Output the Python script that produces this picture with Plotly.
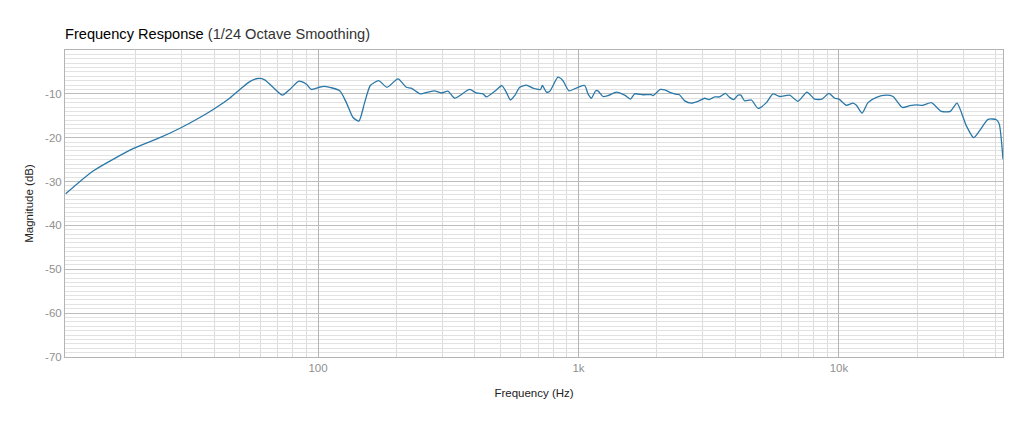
import plotly.graph_objects as go

# frequency response (Hz, dB)
freq = [10.75, 13.7, 19.5, 24.7, 29.4, 35.2, 40.7, 45.8, 50.8, 54.7,
        58.9, 62.4, 67.2, 73.0, 77.9, 84.5, 90.3, 94.3, 100.9, 106.1,
        121.2, 128.5, 136.3, 143.6, 151, 158.8, 171, 184, 202.9, 218.4,
        228, 247, 264, 280, 297.7, 315.5, 334.8, 382, 405.5, 430,
        443, 484, 508, 528, 548, 569, 595, 631, 669, 714,
        727, 753, 776, 834, 872, 919, 995, 1056, 1088, 1121,
        1164, 1188, 1242, 1298, 1398, 1504, 1582, 1643, 1768, 1905,
        1932, 2063, 2143, 2273, 2376, 2440, 2557, 2713, 2875, 3051,
        3170, 3333, 3483, 3664, 3802, 3944, 4096, 4200, 4345, 4610,
        4887, 5264, 5580, 5920, 6467, 6960, 7535, 8066, 8600, 9154,
        9628, 10000, 10676, 11316, 11665, 12260, 12924, 13918, 15205, 16121,
        17513, 18680, 19815, 21011, 22628, 24720, 26765, 28378, 30832, 32890,
        34670, 37325, 40215, 41235, 42616]
mag = [-32.8, -27.6, -22.5, -20.0, -17.9, -15.4, -13.1, -11.0, -8.7, -7.2,
       -6.5, -6.8, -8.5, -10.3, -9.0, -7.1, -7.8, -9.0, -8.5, -8.3,
       -9.3, -12.0, -15.4, -16.2, -12.0, -8.1, -7.0, -8.5, -6.6, -8.5,
       -8.7, -10.0, -9.6, -9.3, -9.8, -9.4, -11.0, -9.0, -9.8, -10.0,
       -10.7, -9.1, -8.1, -9.6, -11.4, -10.4, -8.5, -8.0, -8.7, -9.0,
       -8.1, -9.6, -9.4, -6.2, -7.0, -9.3, -8.5, -8.1, -10.0, -11.0,
       -9.3, -9.3, -10.6, -10.4, -9.6, -10.3, -11.2, -10.0, -10.2, -10.2,
       -10.4, -9.0, -9.1, -9.8, -10.1, -10.2, -11.6, -12.1, -11.7, -11.0,
       -11.3, -10.7, -10.7, -9.9, -10.8, -11.3, -10.3, -10.3, -11.6, -11.4,
       -13.3, -12.0, -10.0, -10.6, -10.3, -11.7, -9.6, -11.2, -11.2, -9.9,
       -11.0, -11.2, -12.6, -12.1, -12.6, -14.4, -12.0, -10.8, -10.3, -10.6,
       -13.1, -12.7, -12.5, -12.6, -12.0, -14.0, -14.0, -12.1, -17.3, -20.0,
       -18.4, -15.8, -15.9, -16.9, -24.9]

major_x = [100, 1000, 10000]
major_x_text = ["100", "1k", "10k"]
y_ticks = [-70, -60, -50, -40, -30, -20, -10]
y_tick_text = ["-70", "-60", "-50", "-40", "-30", "-20", "-10"]

minor_x = [m * d for d in (10, 100, 1000, 10000) for m in range(2, 10) if m * d < 43000]

# the page body adds an 8px offset, so margins are shifted to compensate
fig = go.Figure()
fig.add_trace(go.Scatter(x=freq, y=mag, mode="lines",
                         line=dict(color="#2a78a8", width=1.3, shape="spline", smoothing=0.6),
                         hoverinfo="skip"))

fig.update_xaxes(type="log", range=[1.0288, 4.6296],
                 tickvals=major_x, ticktext=major_x_text,
                 showgrid=True, gridcolor="#b4b4b4", gridwidth=1,
                 minor=dict(tickvals=minor_x, showgrid=True, gridcolor="#dcdcdc", gridwidth=1),
                 showline=True, mirror=True, linecolor="#b4b4b4", linewidth=1,
                 zeroline=False, ticks="",
                 tickfont=dict(size=11.5, color="#909090"),
                 title=dict(text="Frequency (Hz)", font=dict(size=11.5, color="#222"), standoff=16))
fig.update_yaxes(range=[-70, 0], tickvals=y_ticks, ticktext=y_tick_text,
                 showgrid=True, gridcolor="#bcbcbc", gridwidth=1,
                 minor=dict(dtick=1, showgrid=True, gridcolor="#e2e2e2", gridwidth=1),
                 showline=True, mirror=True, linecolor="#b4b4b4", linewidth=1,
                 zeroline=False, ticks="",
                 tickfont=dict(size=11.5, color="#909090"),
                 title=dict(text="Magnitude (dB)", font=dict(size=11.5, color="#222"), standoff=9))

fig.update_layout(
    width=1024, height=427,
    margin=dict(l=57, r=29, t=42, b=78),
    paper_bgcolor="white", plot_bgcolor="white",
    font=dict(family="Liberation Sans, Arial, sans-serif"),
    showlegend=False,
    title=dict(text="<span style='color:#000'>Frequency Response</span>"
                    "<span style='color:#333'> (1/24 Octave Smoothing)</span>",
               x=57 / 1024, xanchor="left", y=1 - 26 / 427, yanchor="middle",
               font=dict(size=14.6)),
)

fig.write_html("out.html")
